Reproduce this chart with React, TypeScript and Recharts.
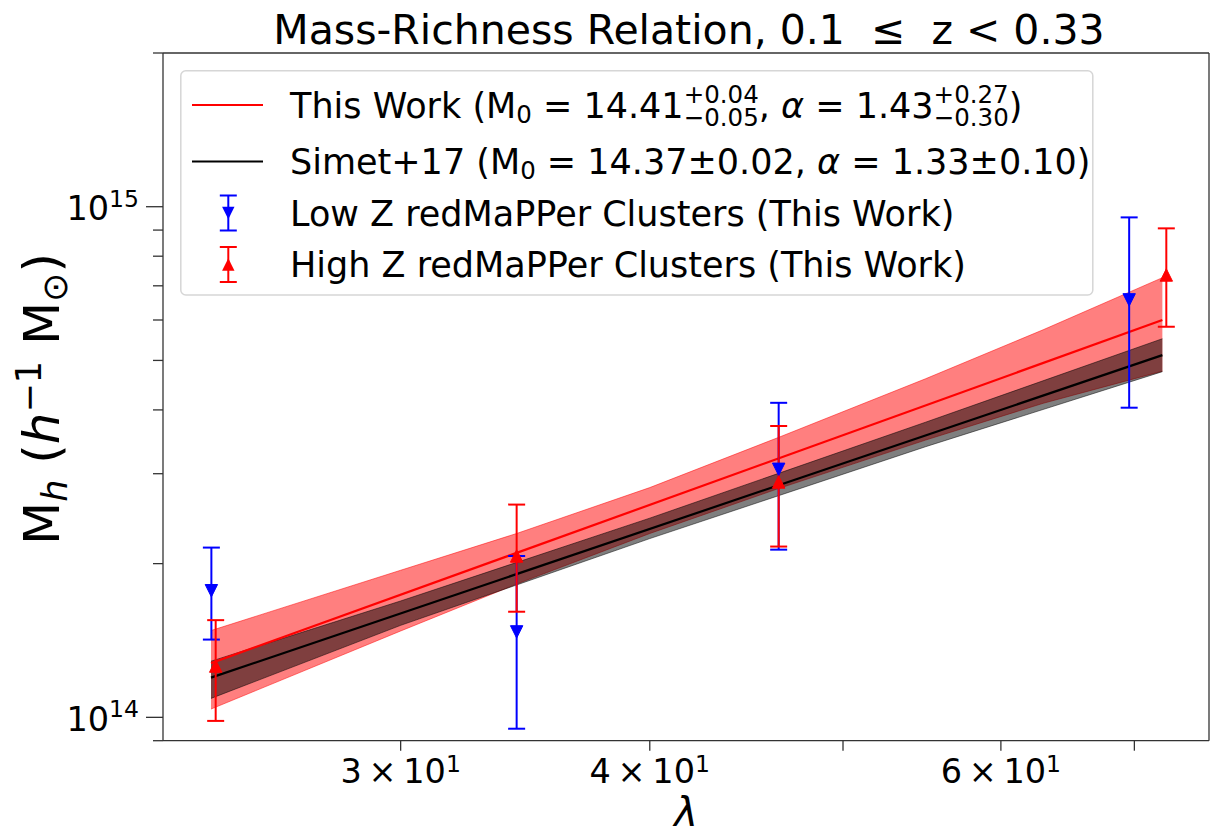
import React from 'react';
import { ComposedChart, XAxis, YAxis, Line, Area, Scatter, ErrorBar } from 'recharts';

const FONT = '"DejaVu Sans", Verdana, sans-serif';

// ---- data ----
const lowZLambda = [24.11, 34.3, 46.42, 69.58];
const lowZMass = [1.77e14, 1.47e14, 3.06e14, 6.57e14];
const lowZUpper = [2.15e14, 2.07e14, 4.13e14, 9.53e14];
const lowZLower = [1.42e14, 0.95e14, 2.13e14, 4.04e14];

const highZLambda = [24.23, 34.3, 46.42, 72.63];
const highZMass = [1.26e14, 2.07e14, 2.89e14, 7.35e14];
const highZUpper = [1.55e14, 2.61e14, 3.72e14, 9.07e14];
const highZLower = [0.984e14, 1.61e14, 2.16e14, 5.82e14];

const fitLambda = [24.1, 72.3];
const thisWorkFit = [1.277e14, 6.0e14];
const simetFit = [1.196e14, 5.12e14];

const thisWorkBandLambda = [24.1, 30, 34.3, 40, 46.4, 55, 63, 72.3];
const thisWorkBandLow = [1.038e14, 1.476e14, 1.824e14, 2.291e14, 2.805e14, 3.491e14, 4.121e14, 4.764e14];
const thisWorkBandHigh = [1.479e14, 1.941e14, 2.291e14, 2.818e14, 3.532e14, 4.603e14, 5.741e14, 7.261e14];

const simetBandLambda = [24.1, 30, 40, 55, 72.3];
const simetBandLow = [1.089e14, 1.514e14, 2.239e14, 3.388e14, 4.753e14];
const simetBandHigh = [1.288e14, 1.69e14, 2.455e14, 3.784e14, 5.514e14];

const xDomain = [22.8, 76.3];
const yDomain = [9e13, 2e15];
const xTicks = [30, 40, 50, 60, 70];
const xLabeledTicks = [30, 40, 60];
const xTickMantissas = ['3', '4', '6'];
const xTickExponent = '1';
const yTicks = [9e13, 1e14, 2e14, 3e14, 4e14, 5e14, 6e14, 7e14, 8e14, 9e14, 1e15, 2e15];
const yMajorTicks = [1e14, 1e15];
const yMajorExponents = ['14', '15'];

// ---- tables built from arrays ----
const lowZData = lowZLambda.map((l, i) => ({
  l,
  m: lowZMass[i],
  err: [lowZMass[i] - lowZLower[i], lowZUpper[i] - lowZMass[i]],
}));
const highZData = highZLambda.map((l, i) => ({
  l,
  m: highZMass[i],
  err: [highZMass[i] - highZLower[i], highZUpper[i] - highZMass[i]],
}));
const thisWorkLine = fitLambda.map((l, i) => ({ l, m: thisWorkFit[i] }));
const simetLine = fitLambda.map((l, i) => ({ l, m: simetFit[i] }));
const thisWorkBand = thisWorkBandLambda.map((l, i) => ({ l, r: [thisWorkBandLow[i], thisWorkBandHigh[i]] }));
const simetBand = simetBandLambda.map((l, i) => ({ l, r: [simetBandLow[i], simetBandHigh[i]] }));

const AX = '#333333';

const XTick = (props: any) => {
  const { x, y, payload } = props;
  const idx = xLabeledTicks.indexOf(payload.value);
  return (
    <g>
      <line x1={x} x2={x} y1={y} y2={y + 10} stroke={AX} strokeWidth={1.3} />
      {idx >= 0 && (
        <text x={x} y={y + 42} textAnchor="middle" fontFamily={FONT} fontSize={33.5} fill="#000" style={{ whiteSpace: 'pre' }}>
          {xTickMantissas[idx] + '\u2009\u00d7\u200910'}
          <tspan dy={-11} fontSize={23.5}>{xTickExponent}</tspan>
        </text>
      )}
    </g>
  );
};

const YTick = (props: any) => {
  const { x, y, payload } = props;
  const idx = yMajorTicks.indexOf(payload.value);
  const len = idx >= 0 ? 17 : 10;
  return (
    <g>
      <line x1={x - len} x2={x} y1={y} y2={y} stroke={AX} strokeWidth={1.3} />
      {idx >= 0 && (
        <text x={x - len - 7} y={y + 13.4} textAnchor="end" fontFamily={FONT} fontSize={33.5} fill="#000">
          10
          <tspan dy={-13.4} fontSize={23.5}>{yMajorExponents[idx]}</tspan>
        </text>
      )}
    </g>
  );
};

const tri = (dir: 'up' | 'down', color: string) => (props: any) => {
  const { cx, cy } = props;
  if (cx == null || cy == null) return <g />;
  const s = 6.2;
  const d =
    dir === 'down'
      ? `M${cx - s},${cy - s}L${cx + s},${cy - s}L${cx},${cy + s}Z`
      : `M${cx - s},${cy + s}L${cx + s},${cy + s}L${cx},${cy - s}Z`;
  return <path d={d} fill={color} stroke={color} strokeWidth={1} />;
};

const LegendErrIcon = ({ cx, cy, color, dir }: any) => {
  const s = 6.2;
  const d =
    dir === 'down'
      ? `M${cx - s},${cy - s}L${cx + s},${cy - s}L${cx},${cy + s}Z`
      : `M${cx - s},${cy + s}L${cx + s},${cy + s}L${cx},${cy - s}Z`;
  return (
    <g>
      <line x1={cx} x2={cx} y1={cy - 17.5} y2={cy + 17.5} stroke={color} strokeWidth={2} />
      <line x1={cx - 8.5} x2={cx + 8.5} y1={cy - 17.5} y2={cy - 17.5} stroke={color} strokeWidth={2} />
      <line x1={cx - 8.5} x2={cx + 8.5} y1={cy + 17.5} y2={cy + 17.5} stroke={color} strokeWidth={2} />
      <path d={d} fill={color} />
    </g>
  );
};

const FS = 35;
const SFS = 24.5;
const SW = 3.064 * SFS;

const Overlay = () => (
  <svg width={1213} height={834} style={{ position: 'absolute', left: 0, top: 0, pointerEvents: 'none' }}>
    {/* title */}
    <text x={689} y={44} textAnchor="middle" fontFamily={FONT} fontSize={41} fill="#000" style={{ whiteSpace: 'pre' }}>
      {'Mass-Richness Relation, 0.1  \u2264  z < 0.33'}
    </text>
    {/* x label */}
    <text x={686} y={826} textAnchor="middle" fontFamily={FONT} fontSize={40} fontStyle="italic" fill="#000">
      λ
    </text>
    {/* y label */}
    <text
      transform="translate(59,399) rotate(-90)"
      x={0}
      y={0}
      textAnchor="middle"
      fontFamily={FONT}
      fontSize={50}
      fill="#000"
      style={{ whiteSpace: 'pre' }}
    >
      M
      <tspan dy={7.5} fontSize={35} fontStyle="italic">h</tspan>
      <tspan dy={-7.5} fontSize={50}>{' ('}</tspan>
      <tspan fontStyle="italic">h</tspan>
      <tspan dy={-18} fontSize={35}>{'\u22121'}</tspan>
      <tspan dy={18} fontSize={50}>{' M'}</tspan>
      <tspan dy={7.5} fontSize={35}>{'\u2299'}</tspan>
      <tspan dy={-7.5} fontSize={50}>)</tspan>
    </text>
    {/* legend */}
    <rect x={180.8} y={70.8} width={912} height={224.2} rx={5} ry={5} fill="#ffffff" fillOpacity={0.8} stroke="#d6d6d6" strokeWidth={1.5} />
    <line x1={192} x2={263} y1={105} y2={105} stroke="#ff0000" strokeWidth={2} />
    <line x1={192} x2={263} y1={161.4} y2={161.4} stroke="#000000" strokeWidth={2} />
    <LegendErrIcon cx={228.3} cy={213} color="#0000ff" dir="down" />
    <LegendErrIcon cx={228.3} cy={264.5} color="#ff0000" dir="up" />
    <text x={290} y={117.5} fontFamily={FONT} fontSize={FS} fill="#000" style={{ whiteSpace: 'pre' }}>
      {'This Work (M'}
      <tspan dy={5} fontSize={SFS}>0</tspan>
      <tspan dy={-5} fontSize={FS}>{' = 14.41'}</tspan>
      <tspan dy={-14.7} fontSize={SFS}>+0.04</tspan>
      <tspan dx={-SW} dy={22.7} fontSize={SFS}>{'\u22120.05'}</tspan>
      <tspan dy={-8} fontSize={FS}>{', '}</tspan>
      <tspan fontStyle="italic">α</tspan>
      <tspan>{' = 1.43'}</tspan>
      <tspan dy={-14.7} fontSize={SFS}>+0.27</tspan>
      <tspan dx={-SW} dy={22.7} fontSize={SFS}>{'\u22120.30'}</tspan>
      <tspan dy={-8} fontSize={FS}>)</tspan>
    </text>
    <text x={290} y={174} fontFamily={FONT} fontSize={FS} fill="#000" style={{ whiteSpace: 'pre' }}>
      {'Simet+17 (M'}
      <tspan dy={5} fontSize={SFS}>0</tspan>
      <tspan dy={-5} fontSize={FS}>{' = 14.37\u00b10.02, '}</tspan>
      <tspan fontStyle="italic">α</tspan>
      <tspan>{' = 1.33\u00b10.10)'}</tspan>
    </text>
    <text x={290} y={225.5} fontFamily={FONT} fontSize={FS} fill="#000">
      Low Z redMaPPer Clusters (This Work)
    </text>
    <text x={290} y={277} fontFamily={FONT} fontSize={FS} fill="#000">
      High Z redMaPPer Clusters (This Work)
    </text>
  </svg>
);

export default function App() {
  return (
    <div style={{ position: 'absolute', left: 0, top: 0, width: 1213, height: 834, background: '#fff' }}>
      <ComposedChart width={1213} height={834} margin={{ top: 52, right: 3, bottom: 92.3, left: 162 }}>
        <XAxis
          dataKey="l"
          type="number"
          scale="log"
          domain={xDomain}
          allowDataOverflow
          ticks={xTicks}
          interval={0}
          tick={<XTick />}
          tickLine={false}
          tickSize={0}
          tickMargin={0}
          height={1}
          axisLine={{ stroke: AX, strokeWidth: 1.3 }}
        />
        <XAxis
          xAxisId="top"
          orientation="top"
          dataKey="l"
          type="number"
          scale="log"
          domain={xDomain}
          allowDataOverflow
          ticks={xTicks}
          tick={false}
          tickLine={false}
          height={1}
          axisLine={{ stroke: AX, strokeWidth: 1.3 }}
        />
        <YAxis
          type="number"
          scale="log"
          domain={yDomain}
          allowDataOverflow
          ticks={yTicks}
          interval={0}
          tick={<YTick />}
          tickLine={false}
          tickSize={0}
          tickMargin={0}
          width={1}
          axisLine={{ stroke: AX, strokeWidth: 1.3 }}
        />
        <YAxis
          yAxisId="right"
          orientation="right"
          type="number"
          scale="log"
          domain={yDomain}
          allowDataOverflow
          ticks={yTicks}
          tick={false}
          tickLine={false}
          width={1}
          axisLine={{ stroke: AX, strokeWidth: 1.3 }}
        />
        <Area
          data={thisWorkBand}
          dataKey="r"
          type="linear"
          fill="#ff0000"
          fillOpacity={0.5}
          stroke="#ff0000"
          strokeOpacity={0.5}
          strokeWidth={1}
          dot={false}
          activeDot={false}
          isAnimationActive={false}
        />
        <Area
          data={simetBand}
          dataKey="r"
          type="linear"
          fill="#000000"
          fillOpacity={0.5}
          stroke="#000000"
          strokeOpacity={0.5}
          strokeWidth={1}
          dot={false}
          activeDot={false}
          isAnimationActive={false}
        />
        <Line data={thisWorkLine} dataKey="m" type="linear" stroke="#ff0000" strokeWidth={2.2} dot={false} activeDot={false} isAnimationActive={false} />
        <Line data={simetLine} dataKey="m" type="linear" stroke="#000000" strokeWidth={2.2} dot={false} activeDot={false} isAnimationActive={false} />
        <Scatter data={lowZData} dataKey="m" fill="#0000ff" shape={tri('down', '#0000ff')} isAnimationActive={false}>
          <ErrorBar dataKey="err" direction="y" width={8.5} stroke="#0000ff" strokeWidth={2} isAnimationActive={false} />
        </Scatter>
        <Scatter data={highZData} dataKey="m" fill="#ff0000" shape={tri('up', '#ff0000')} isAnimationActive={false}>
          <ErrorBar dataKey="err" direction="y" width={8.5} stroke="#ff0000" strokeWidth={2} isAnimationActive={false} />
        </Scatter>
      </ComposedChart>
      <Overlay />
    </div>
  );
}
